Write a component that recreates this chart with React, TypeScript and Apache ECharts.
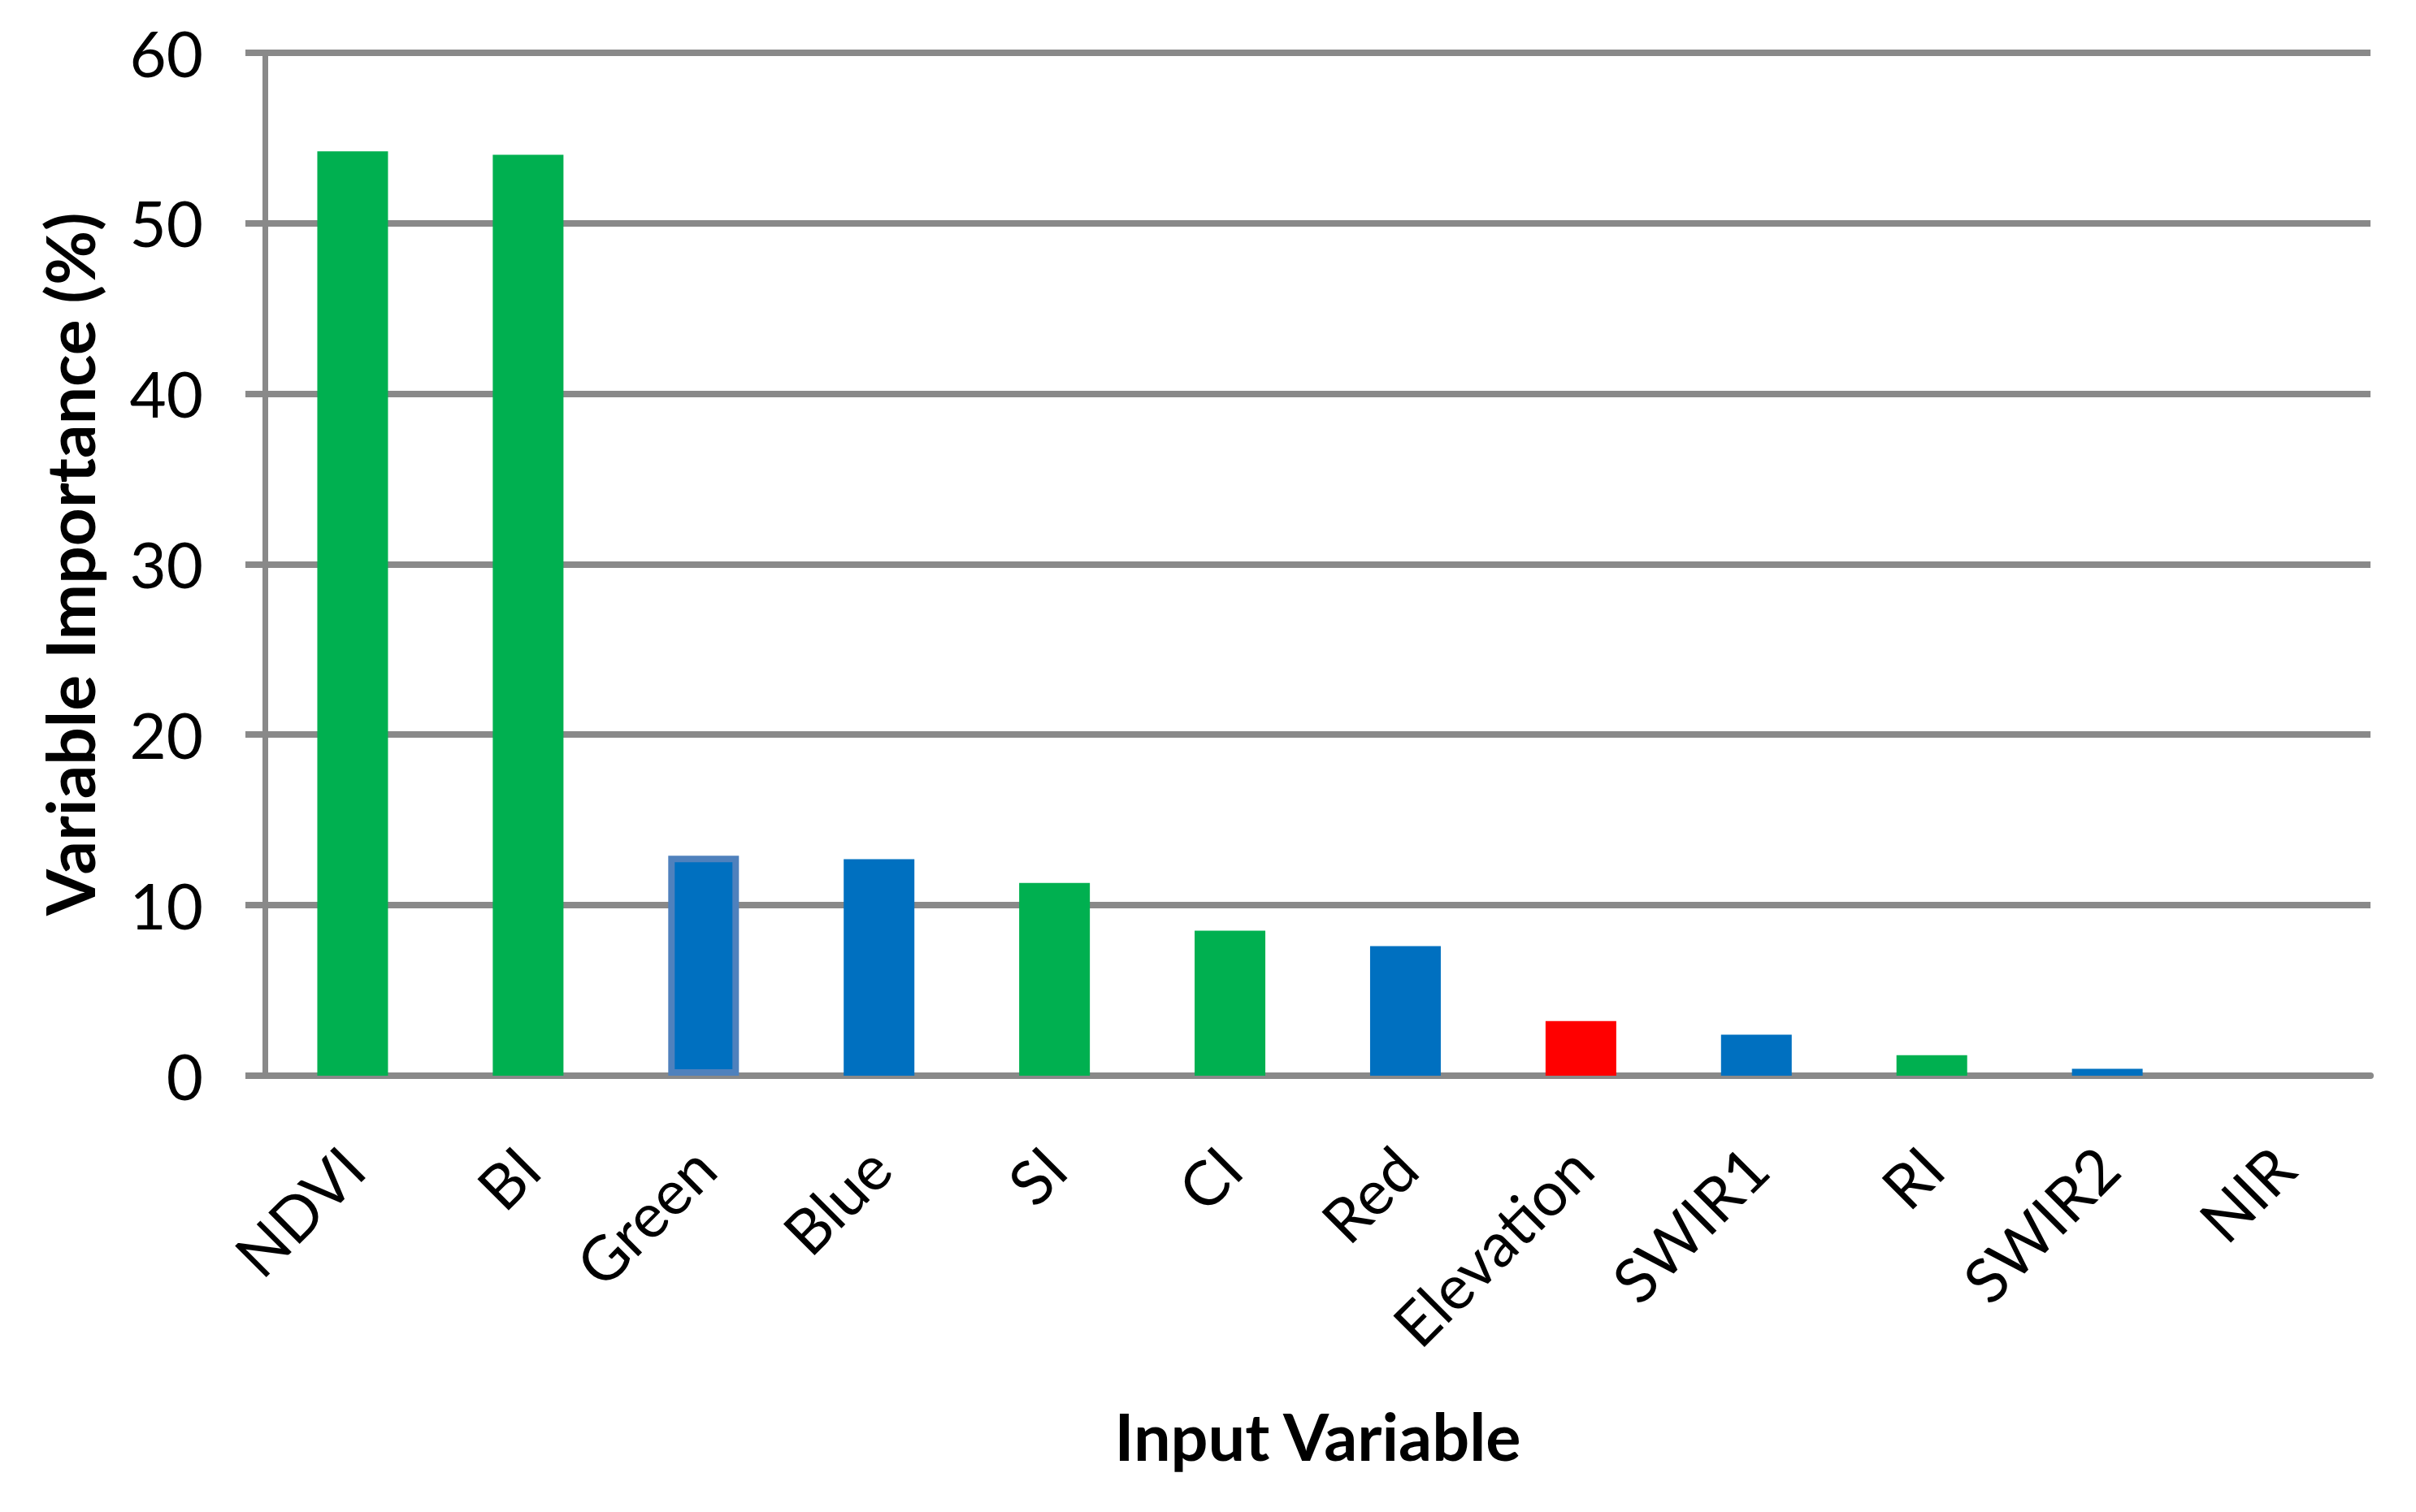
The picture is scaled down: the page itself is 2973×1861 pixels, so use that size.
import React, { useEffect, useRef } from "react";
import * as echarts from "echarts";

const categories = ["NDVI", "BI", "Green", "Blue", "SI", "CI", "Red", "Elevation", "SWIR1", "RI", "SWIR2", "NIR"];
const importance = [54.2, 54.0, 12.9, 12.7, 11.3, 8.5, 7.6, 3.2, 2.4, 1.2, 0.4, 0];
// variable type: index = spectral index, band = spectral band, terrain = topographic
const varType = ["index", "index", "band", "band", "index", "index", "band", "terrain", "band", "index", "band", "band"];
const yTicks = [0, 10, 20, 30, 40, 50, 60];

const typeColor: Record<string, string> = {
  index: "#00B050",
  band: "#0070C0",
  terrain: "#FF0000",
};

export default function App() {
  const ref = useRef<HTMLDivElement>(null);
  useEffect(() => {
    if (!ref.current) return;
    const chart = echarts.init(ref.current, undefined, { renderer: "svg" });
    const gray = "#898989";
    const data = importance.map((v, i) => {
      const item: any = { value: v, itemStyle: { color: typeColor[varType[i]] } };
      if (categories[i] === "Green") {
        item.itemStyle.borderColor = "#4F81BD";
        item.itemStyle.borderWidth = 8;
      }
      return item;
    });
    chart.setOption({
      animation: false,
      backgroundColor: "#ffffff",
      grid: { left: 326, right: 56, top: 64.5, bottom: 537, containLabel: false },
      xAxis: {
        type: "category",
        data: categories,
        name: "Input Variable",
        nameLocation: "middle",
        nameGap: 402,
        nameTextStyle: { fontFamily: "Lato", fontWeight: "bold", fontSize: 81, color: "#000" },
        axisLine: { show: true, lineStyle: { color: gray, width: 8 } },
        axisTick: { show: false },
        axisLabel: {
          rotate: 45,
          margin: 100,
          fontFamily: "Lato",
          fontSize: 76,
          color: "#000",
          interval: 0,
        },
        splitLine: { show: false },
      },
      yAxis: {
        type: "value",
        min: yTicks[0],
        max: yTicks[yTicks.length - 1],
        interval: 10,
        name: "Variable Importance (%)",
        nameLocation: "middle",
        nameRotate: 90,
        nameGap: 200,
        nameTextStyle: { fontFamily: "Lato", fontWeight: "bold", fontSize: 82, color: "#000" },
        axisLine: { show: true, lineStyle: { color: gray, width: 7 } },
        axisTick: { show: true, inside: false, length: 24, lineStyle: { color: gray, width: 8 } },
        axisLabel: { margin: 76, fontFamily: "Lato", fontSize: 78, color: "#000" },
        splitLine: { show: true, lineStyle: { color: gray, width: 8 } },
      },
      series: [
        {
          type: "bar",
          data,
          barWidth: 87,
        },
      ],
    });
    return () => chart.dispose();
  }, []);
  return (
    <div
      ref={ref}
      style={{ position: "absolute", left: 0, top: 0, width: 2973, height: 1861, background: "#fff" }}
    />
  );
}
